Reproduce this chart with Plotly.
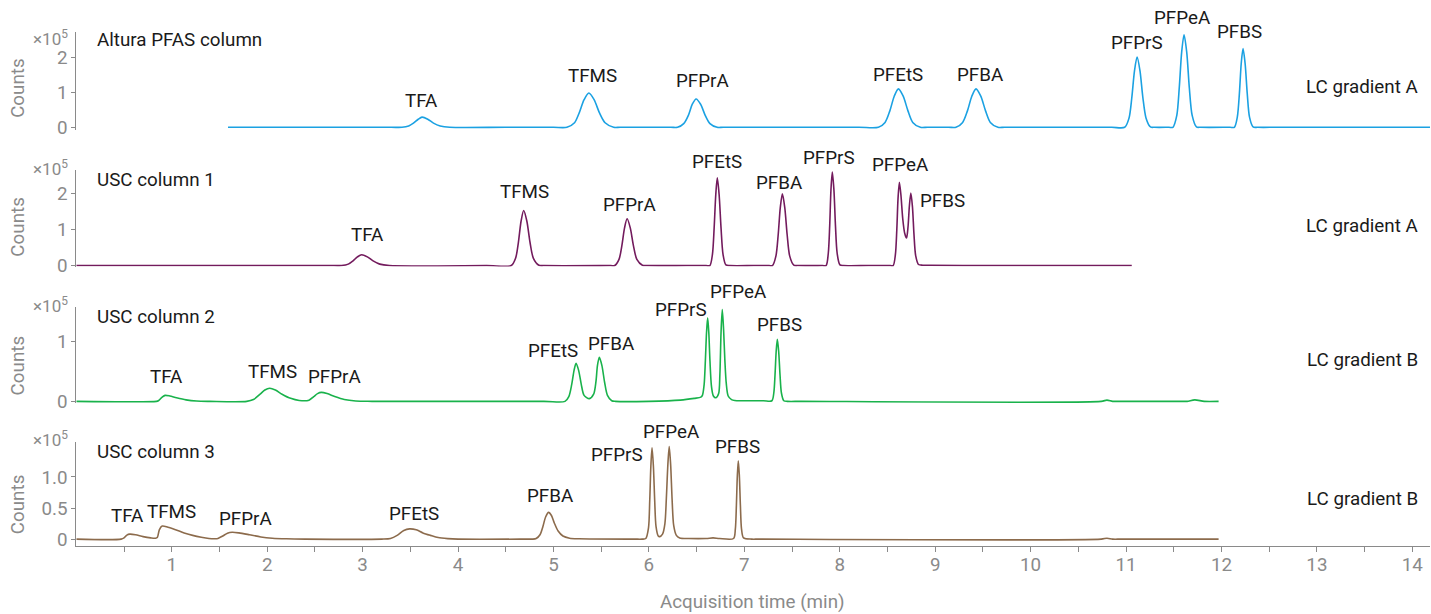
import plotly.graph_objects as go

# ---------------- data (counts in units of 1e5) ----------------
altura_t = [1.59, 3.30,
            3.413, 3.483, 3.533, 3.583, 3.623, 3.683, 3.743, 3.813, 3.913,
            4.5, 5.0,
            5.141, 5.221, 5.271, 5.321, 5.371, 5.426, 5.481, 5.541, 5.631, 5.70,
            6.23, 6.30, 6.365, 6.415, 6.455, 6.495, 6.542, 6.589, 6.64, 6.715, 6.78,
            7.5, 8.2,
            8.405, 8.475, 8.525, 8.571, 8.615, 8.665, 8.715, 8.765, 8.845, 8.92,
            9.14, 9.218, 9.288, 9.338, 9.384, 9.428, 9.478, 9.528, 9.578, 9.658, 9.73,
            10.5, 10.85,
            10.986, 11.031, 11.061, 11.089, 11.116, 11.146, 11.176, 11.21, 11.256, 11.30,
            11.45, 11.491, 11.532, 11.558, 11.583, 11.608, 11.636, 11.663, 11.693, 11.738, 11.78,
            12.09, 12.135, 12.166, 12.188, 12.207, 12.226, 12.248, 12.27, 12.294, 12.331, 12.38,
            12.6, 14.19]
altura_y = [0, 0,
            0, 0.04, 0.12, 0.23, 0.29, 0.23, 0.12, 0.04, 0,
            0, 0,
            0, 0.13, 0.42, 0.79, 0.98, 0.79, 0.42, 0.13, 0, 0,
            0, 0, 0.105, 0.35, 0.66, 0.81, 0.66, 0.35, 0.105, 0, 0,
            0, 0,
            0, 0.14, 0.47, 0.89, 1.10, 0.89, 0.47, 0.14, 0, 0,
            0, 0, 0.14, 0.47, 0.89, 1.10, 0.89, 0.47, 0.14, 0, 0,
            0, 0,
            0, 0.26, 0.86, 1.62, 2.01, 1.62, 0.86, 0.26, 0.01, 0,
            0, 0, 0.34, 1.14, 2.15, 2.65, 2.15, 1.14, 0.34, 0.01, 0,
            0, 0, 0.29, 0.97, 1.82, 2.25, 1.82, 0.97, 0.29, 0.01, 0,
            0, 0]

usc1_t = [0, 2.7,
          2.78, 2.85, 2.90, 2.946, 2.99, 3.05, 3.11, 3.18, 3.28,
          4.3,
          4.558, 4.603, 4.633, 4.661, 4.688, 4.721, 4.754, 4.79, 4.848, 4.90,
          5.60, 5.642, 5.687, 5.717, 5.745, 5.772, 5.805, 5.838, 5.874, 5.932, 5.98,
          6.40, 6.60,
          6.639, 6.666, 6.684, 6.701, 6.717, 6.736, 6.756, 6.777, 6.807, 6.85,
          7.1, 7.26,
          7.295, 7.331, 7.355, 7.377, 7.399, 7.424, 7.449, 7.476, 7.519, 7.56,
          7.82, 7.857, 7.88, 7.895, 7.908, 7.922, 7.939, 7.955, 7.973, 8.002, 8.04,
          8.3, 8.53,
          8.56, 8.583, 8.598, 8.611, 8.625, 8.641, 8.66, 8.68, 8.70, 8.715,
          8.73, 8.745, 8.762, 8.778, 8.796, 8.825, 8.87, 8.94,
          9.5, 11.06]
usc1_y = [0, 0,
          0, 0.04, 0.13, 0.24, 0.30, 0.24, 0.13, 0.04, 0,
          0,
          0, 0.2, 0.65, 1.23, 1.52, 1.23, 0.65, 0.2, 0.01, 0,
          0, 0, 0.17, 0.55, 1.04, 1.29, 1.04, 0.55, 0.17, 0.01, 0,
          0, 0,
          0, 0.31, 1.04, 1.96, 2.42, 1.96, 1.04, 0.31, 0.02, 0,
          0, 0,
          0, 0.26, 0.85, 1.6, 1.98, 1.6, 0.85, 0.26, 0.01, 0,
          0, 0, 0.34, 1.11, 2.09, 2.58, 2.09, 1.11, 0.34, 0.02, 0,
          0, 0,
          0, 0.3, 0.99, 1.86, 2.30, 1.95, 1.3, 0.9, 0.76, 1.05,
          1.65, 2.0, 1.62, 0.86, 0.27, 0.03, 0.01, 0.01,
          0, 0]

usc2_t = [0, 0.84,
          0.86, 0.90, 0.93, 0.98, 1.05, 1.15, 1.26, 1.4,
          1.786, 1.856, 1.926, 1.976, 2.026, 2.086, 2.156, 2.246, 2.336,
          2.438, 2.488, 2.528, 2.568, 2.628, 2.708, 2.808, 2.928, 3.1,
          4.9,
          5.121, 5.161, 5.191, 5.216, 5.237, 5.264, 5.291, 5.321, 5.376,
          5.421, 5.446, 5.461, 5.481, 5.508, 5.536, 5.566, 5.611, 5.65,
          6.0, 6.33, 6.475, 6.545,
          6.561, 6.579, 6.592, 6.604, 6.616, 6.628, 6.64, 6.656, 6.676, 6.703,
          6.731, 6.744, 6.756, 6.769, 6.783, 6.796, 6.811, 6.831, 6.866, 6.9,
          7.2,
          7.289, 7.309, 7.322, 7.334, 7.346, 7.36, 7.374, 7.389, 7.414, 7.45,
          7.6, 10.74, 10.80, 10.86, 10.92, 11.58, 11.64, 11.72, 11.82, 11.97]
usc2_y = [0, 0,
          0.01, 0.07, 0.10, 0.09, 0.06, 0.025, 0.005, 0,
          0, 0.03, 0.12, 0.19, 0.22, 0.19, 0.12, 0.05, 0.015,
          0.02, 0.08, 0.13, 0.15, 0.13, 0.08, 0.03, 0.005, 0,
          0,
          0, 0.08, 0.28, 0.52, 0.64, 0.52, 0.29, 0.10, 0.045,
          0.12, 0.34, 0.6, 0.74, 0.6, 0.32, 0.1, 0.01, 0,
          0, 0.02, 0.05, 0.07,
          0.1, 0.28, 0.68, 1.15, 1.40, 1.15, 0.68, 0.25, 0.09, 0.06,
          0.13, 0.45, 1.15, 1.54, 1.2, 0.7, 0.3, 0.09, 0.03, 0.015,
          0.01,
          0.01, 0.14, 0.45, 0.84, 1.04, 0.84, 0.45, 0.14, 0.01, 0,
          0, 0, 0.02, 0, 0, 0, 0, 0.025, 0, 0]

usc3_t = [0, 0.47,
          0.50, 0.53, 0.56, 0.62, 0.70, 0.78, 0.83,
          0.85, 0.87, 0.90, 0.96, 1.04, 1.13, 1.22, 1.31, 1.39, 1.45,
          1.484, 1.534, 1.584, 1.634, 1.704, 1.814, 1.934, 2.054, 2.2, 2.4,
          3.2,
          3.292, 3.362, 3.432, 3.492, 3.562, 3.632, 3.712, 3.792, 3.892, 4.0,
          4.75, 4.78,
          4.819, 4.859, 4.889, 4.919, 4.949, 4.979, 5.009, 5.049, 5.099, 5.169, 5.269,
          5.85, 5.93,
          5.968, 5.996, 6.009, 6.021, 6.033, 6.047, 6.061, 6.075, 6.098, 6.113,
          6.143, 6.168, 6.183, 6.199, 6.213, 6.228, 6.243, 6.26, 6.288, 6.323, 6.42,
          6.6, 6.672, 6.74,
          6.887, 6.906, 6.917, 6.927, 6.937, 6.948, 6.959, 6.971, 6.992, 7.077, 7.15,
          10.74, 10.80, 10.86, 10.95, 11.97]
usc3_y = [0, 0,
          0.02, 0.065, 0.08, 0.07, 0.04, 0.02, 0.015,
          0.03, 0.15, 0.21, 0.19, 0.15, 0.10, 0.06, 0.03, 0.01, 0.005,
          0.01, 0.05, 0.095, 0.11, 0.10, 0.07, 0.035, 0.015, 0.005, 0,
          0,
          0.01, 0.06, 0.14, 0.165, 0.15, 0.10, 0.06, 0.025, 0.008, 0,
          0, 0,
          0.01, 0.07, 0.2, 0.36, 0.43, 0.38, 0.26, 0.13, 0.05, 0.015, 0.005,
          0, 0,
          0.01, 0.18, 0.62, 1.18, 1.47, 1.18, 0.62, 0.2, 0.05, 0.04,
          0.08, 0.25, 0.65, 1.2, 1.49, 1.2, 0.65, 0.22, 0.06, 0.02, 0.01,
          0.01, 0.02, 0.01,
          0.01, 0.16, 0.54, 1.02, 1.26, 1.02, 0.54, 0.16, 0.02, 0, 0,
          0, 0.015, 0, 0, 0]

panel_titles = ["Altura PFAS column", "USC column 1", "USC column 2", "USC column 3"]
gradients = ["LC gradient A", "LC gradient A", "LC gradient B", "LC gradient B"]
colors = ["#1ba1e2", "#731b5d", "#19b24b", "#8c6b4c"]

# peak labels: name, label time (min), apex height (1e5 counts)
altura_labels = ["TFA", "TFMS", "PFPrA", "PFEtS", "PFBA", "PFPrS", "PFPeA", "PFBS"]
altura_label_t = [3.62, 5.41, 6.56, 8.61, 9.47, 11.12, 11.59, 12.19]
altura_label_h = [0.29, 0.98, 0.81, 1.10, 1.10, 2.01, 2.65, 2.25]
usc1_labels = ["TFA", "TFMS", "PFPrA", "PFEtS", "PFBA", "PFPrS", "PFPeA", "PFBS"]
usc1_label_t = [3.05, 4.70, 5.80, 6.71, 7.37, 7.89, 8.64, 9.08]
usc1_label_h = [0.30, 1.52, 1.29, 2.42, 1.98, 2.58, 2.30, 2.0]
usc2_labels = ["TFA", "TFMS", "PFPrA", "PFEtS", "PFBA", "PFPrS", "PFPeA", "PFBS"]
usc2_label_t = [0.95, 2.06, 2.71, 4.99, 5.61, 6.34, 6.94, 7.37]
usc2_label_h = [0.10, 0.22, 0.15, 0.64, 0.74, 1.40, 1.54, 1.04]
usc3_labels = ["TFA", "TFMS", "PFPrA", "PFEtS", "PFBA", "PFPrS", "PFPeA", "PFBS"]
usc3_label_t = [0.54, 1.00, 1.77, 3.54, 4.97, 5.67, 6.24, 6.93]
usc3_label_h = [0.08, 0.21, 0.11, 0.165, 0.43, 1.47, 1.49, 1.26]

# ---------------- layout helpers ----------------
REF_W, REF_H = 1431, 614      # target picture size
W, H = 1431, 624              # figure size (picture is captured slightly squeezed vertically)
SY = H / REF_H
GRAY = "#8a8a8a"
TXT = "#1a1a1a"
FONT = "Roboto"
FS = 18.8


def fx(px):
    return px / REF_W


def fy(py):
    return 1 - py / REF_H


# label pixel offsets above apex (picture pixels)
label_shift = [
    [16, 17, 18, 14, 14, 14, 16, 16],
    [19, 18, 14, 16, 11, 14, 17, -8],
    [18, 16, 15, 12, 13, 8, 17, 14],
    [18, 14, 13, 15, 16, -7, 14, 14],
]

# panel picture-pixel geometry: (top px, bottom px, zero px, px per unit)
geom = [(32, 130, 127.5, 35.0), (170, 267, 266, 36.3), (307, 404, 402, 59.7), (443, 547, 540, 62.3)]
yticks = [([0, 1, 2], ["0", "1", "2"]), ([0, 1, 2], ["0", "1", "2"]),
          ([0, 1], ["0", "1"]), ([0, 0.5, 1.0], ["0", "0.5", "1.0"])]
x10_py = [38, 168, 305, 440]
counts_py = [88, 227, 366, 505]
title_py = [40, 180, 318, 453]
grad_py = [87, 226, 361, 500]

series_t = [altura_t, usc1_t, usc2_t, usc3_t]
series_y = [altura_y, usc1_y, usc2_y, usc3_y]
labels = [(altura_labels, altura_label_t, altura_label_h), (usc1_labels, usc1_label_t, usc1_label_h),
          (usc2_labels, usc2_label_t, usc2_label_h), (usc3_labels, usc3_label_t, usc3_label_h)]

fig = go.Figure()
annotations = []
x0px, pxmin = 76.3, 95.43
xr = [0, (1430 - x0px) / pxmin]

for i in range(4):
    ya = "y" if i == 0 else f"y{i+1}"
    fig.add_trace(go.Scatter(x=series_t[i], y=series_y[i], mode="lines", xaxis="x", yaxis=ya,
                             line=dict(color=colors[i], width=1.6, shape="spline", smoothing=0.8),
                             hoverinfo="skip", showlegend=False))
    top, bot, zero, ppu = geom[i]
    key = "yaxis" if i == 0 else f"yaxis{i+1}"
    fig.layout[key] = dict(
        domain=[fy(bot), fy(top)],
        range=[-(bot - zero) / ppu, (zero - top) / ppu],
        anchor="x", showline=True, linecolor=GRAY, linewidth=1,
        ticks="outside", ticklen=4, tickcolor=GRAY,
        tickvals=yticks[i][0], ticktext=yticks[i][1],
        tickfont=dict(family=FONT, size=FS, color=GRAY),
        showgrid=False, zeroline=False, fixedrange=True,
    )
    names, lt, lh = labels[i]
    for j, n in enumerate(names):
        annotations.append(dict(x=lt[j], y=lh[j], xref="x", yref=ya, text=n, showarrow=False,
                                yshift=label_shift[i][j] * SY, xanchor="center", yanchor="middle",
                                font=dict(family=FONT, size=FS, color=TXT)))
    annotations.append(dict(x=fx(95), y=fy(title_py[i]), xref="paper", yref="paper",
                            text=panel_titles[i], showarrow=False, xanchor="left", yanchor="middle",
                            font=dict(family=FONT, size=FS, color=TXT)))
    annotations.append(dict(x=fx(1362), y=fy(grad_py[i]), xref="paper", yref="paper",
                            text=gradients[i], showarrow=False, xanchor="center", yanchor="middle",
                            font=dict(family=FONT, size=FS, color=TXT)))
    annotations.append(dict(x=fx(70), y=fy(x10_py[i]), xref="paper", yref="paper",
                            text="×10<sup>5</sup>", showarrow=False, xanchor="right", yanchor="middle",
                            font=dict(family=FONT, size=17, color=GRAY)))
    annotations.append(dict(x=fx(18), y=fy(counts_py[i]), xref="paper", yref="paper",
                            text="Counts", showarrow=False, textangle=-90, xanchor="center", yanchor="middle",
                            font=dict(family=FONT, size=FS, color=GRAY)))

annotations.append(dict(x=fx(753), y=fy(603), xref="paper", yref="paper",
                        text="Acquisition time (min)", showarrow=False, xanchor="center", yanchor="middle",
                        font=dict(family=FONT, size=FS, color=GRAY)))

fig.update_layout(
    width=W, height=H,
    margin=dict(l=0, r=0, t=0, b=0),
    paper_bgcolor="white", plot_bgcolor="white",
    xaxis=dict(domain=[fx(x0px), fx(1430)], range=xr, anchor="y4",
               showline=True, linecolor=GRAY, linewidth=1,
               ticks="outside", ticklen=5, tickcolor=GRAY, ticklabelstandoff=-4,
               tickmode="array", tickvals=list(range(1, 15)),
               tickfont=dict(family=FONT, size=FS, color=GRAY),
               minor=dict(tickmode="array", tickvals=[k + 0.5 for k in range(0, 14)],
                          ticks="outside", ticklen=5, tickcolor=GRAY, showgrid=False),
               showgrid=False, zeroline=False, fixedrange=True),
    annotations=annotations,
)

# remove the default page margin so the figure starts at the window's corner
fig.write_html("out.html", config={"displayModeBar": False},
               post_script="document.body.style.margin='0';document.body.style.overflow='hidden';")
